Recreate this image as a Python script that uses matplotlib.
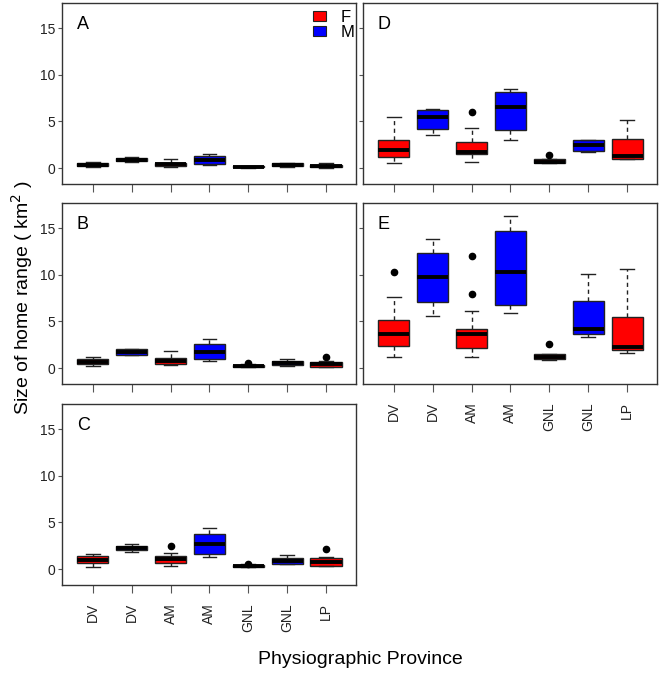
import matplotlib.pyplot as plt
import numpy as np

plt.rcParams['font.family'] = ['Liberation Sans', 'DejaVu Sans']

# data
provinces = ['DV', 'DV', 'AM', 'AM', 'GNL', 'GNL', 'LP']
sexes = ['F', 'M', 'F', 'M', 'F', 'M', 'F']
sex_colors = {'F': '#ff0000', 'M': '#0000ff'}

# per panel: whisker low, q1, median, q3, whisker high, outliers
A_lo = [0.10, 0.65, 0.10, 0.35, 0.05, 0.15, 0.05]
A_q1 = [0.20, 0.75, 0.20, 0.45, 0.10, 0.20, 0.10]
A_med = [0.35, 0.92, 0.40, 0.85, 0.15, 0.35, 0.25]
A_q3 = [0.50, 1.10, 0.55, 1.30, 0.20, 0.50, 0.35]
A_hi = [0.70, 1.20, 0.93, 1.50, 0.25, 0.60, 0.50]
A_out = [[], [], [], [], [], [], []]

B_lo = [0.20, 1.36, 0.29, 0.79, 0.10, 0.25, 0.10]
B_q1 = [0.43, 1.43, 0.43, 0.93, 0.14, 0.29, 0.14]
B_med = [0.71, 1.71, 0.79, 1.75, 0.25, 0.60, 0.45]
B_q3 = [1.00, 2.00, 1.07, 2.57, 0.36, 0.79, 0.64]
B_hi = [1.21, 2.07, 1.79, 3.07, 0.40, 1.00, 0.75]
B_out = [[], [], [], [], [0.50], [], [1.21]]

C_lo = [0.25, 1.82, 0.39, 1.25, 0.20, 0.50, 0.35]
C_q1 = [0.68, 2.03, 0.68, 1.67, 0.25, 0.60, 0.39]
C_med = [1.03, 2.24, 1.10, 2.74, 0.35, 0.89, 0.75]
C_q3 = [1.39, 2.53, 1.39, 3.81, 0.46, 1.18, 1.18]
C_hi = [1.67, 2.74, 1.75, 4.38, 0.50, 1.53, 1.30]
C_out = [[], [], [2.53], [], [0.60], [], [2.17]]

D_lo = [0.50, 3.50, 0.71, 3.00, 0.50, 1.71, 1.00]
D_q1 = [1.21, 4.21, 1.50, 4.07, 0.57, 1.79, 1.00]
D_med = [1.93, 5.50, 1.75, 6.57, 0.71, 2.43, 1.29]
D_q3 = [3.00, 6.21, 2.79, 8.21, 0.93, 3.00, 3.07]
D_hi = [5.50, 6.36, 4.29, 8.43, 1.00, 3.00, 5.21]
D_out = [[], [], [6.07], [], [1.36], [], []]

E_lo = [1.20, 5.64, 1.24, 5.92, 0.85, 3.37, 1.67]
E_q1 = [2.38, 7.13, 2.16, 6.81, 0.96, 3.69, 1.95]
E_med = [3.62, 9.72, 3.65, 10.35, 1.24, 4.22, 2.23]
E_q3 = [5.21, 12.38, 4.22, 14.68, 1.49, 7.16, 5.50]
E_hi = [7.62, 13.87, 6.13, 16.35, 1.50, 10.04, 10.60]
E_out = [[10.35], [], [11.99, 7.98], [], [2.55], [], []]

panels = {
    'A': (A_lo, A_q1, A_med, A_q3, A_hi, A_out),
    'B': (B_lo, B_q1, B_med, B_q3, B_hi, B_out),
    'C': (C_lo, C_q1, C_med, C_q3, C_hi, C_out),
    'D': (D_lo, D_q1, D_med, D_q3, D_hi, D_out),
    'E': (E_lo, E_q1, E_med, E_q3, E_hi, E_out),
}

# axes rectangles in pixels: left, top, right, bottom
W, H = 660, 673
rects = {
    'A': (62, 3, 356, 184),
    'B': (62, 203, 356, 384),
    'C': (62, 404, 356, 585),
    'D': (363, 3, 657, 184),
    'E': (363, 203, 657, 384),
}

fig = plt.figure(figsize=(W / 100, H / 100), dpi=100)
pos = np.arange(1, len(provinces) + 1)

for name, (lo, q1, med, q3, hi, out) in panels.items():
    l, t, r, b = rects[name]
    ax = fig.add_axes([l / W, 1 - b / H, (r - l) / W, (b - t) / H])
    stats = []
    for i in range(len(provinces)):
        stats.append(dict(whislo=lo[i], q1=q1[i], med=med[i], q3=q3[i],
                          whishi=hi[i], fliers=out[i]))
    bp = ax.bxp(stats, positions=pos, widths=0.8, patch_artist=True,
                capwidths=0.35,
                boxprops=dict(edgecolor='#222222', linewidth=1.0),
                whiskerprops=dict(color='#222222', linestyle=(0, (3, 2.5)), linewidth=1.0),
                capprops=dict(color='#222222', linewidth=1.0),
                medianprops=dict(color='black', linewidth=2.8, solid_capstyle='butt'),
                flierprops=dict(marker='o', markerfacecolor='black',
                                markeredgecolor='black', markersize=4.5))
    for patch, s in zip(bp['boxes'], sexes):
        patch.set_facecolor(sex_colors[s])

    ax.set_xlim(0.21, 7.77)
    ax.set_ylim(-1.7, 17.7)
    ax.set_yticks([0, 5, 10, 15])
    ax.set_xticks(pos)
    ax.tick_params(axis='y', direction='out', length=3, width=0.8, color='#555555',
                   labelsize=10, labelcolor='#222222', pad=2)
    ax.tick_params(axis='x', direction='out', length=6, width=0.8, color='#555555',
                   labelsize=10, labelcolor='#222222', pad=7)
    if name in ('C', 'E'):
        ax.set_xticklabels(provinces, rotation=90)
    else:
        ax.set_xticklabels([])
    if name in ('D', 'E'):
        ax.set_yticklabels([])
    for sp in ax.spines.values():
        sp.set_color('#333333')
        sp.set_linewidth(1.0)
    ax.text(0.05, 0.88, name, transform=ax.transAxes, fontsize=13,
            ha='left', va='center')

    if name == 'A':
        handles = [plt.Rectangle((0, 0), 1, 1, facecolor=sex_colors[k],
                                 edgecolor='#222222', linewidth=0.8) for k in ['F', 'M']]
        ax.legend(handles, ['F', 'M'], loc='upper right', frameon=False,
                  bbox_to_anchor=(1.03, 1.015), handlelength=0.8, handleheight=0.55,
                  handletextpad=0.9, labelspacing=0.0, fontsize=12,
                  borderaxespad=0.2)

fig.text(22 / W, 1 - 298 / H, 'Size of home range ( km$^2$ )', rotation=90,
         ha='center', va='center', fontsize=14)
fig.text(360 / W, 1 - 660 / H, 'Physiographic Province', ha='center',
         va='center', fontsize=14)

fig.savefig('out.png', dpi=100)
